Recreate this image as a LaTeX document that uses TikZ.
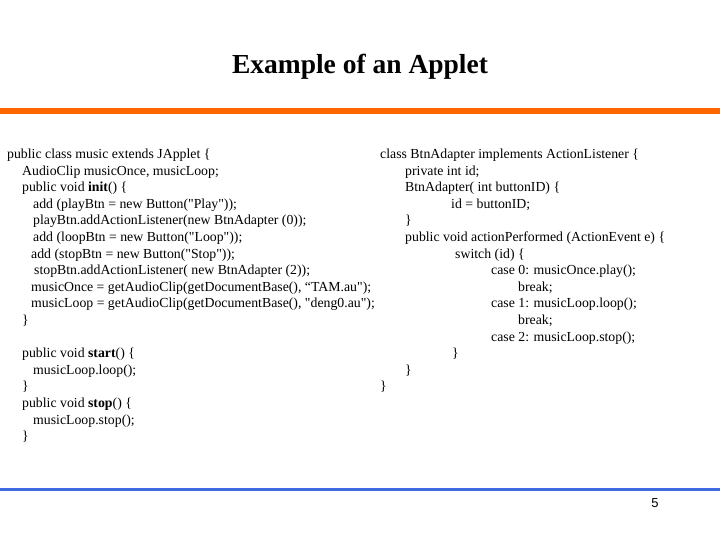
\documentclass[tikz,border=0pt]{standalone}
\usepackage{fontspec}
\setmainfont{Liberation Serif}
\newfontfamily\pagefont{Liberation Sans}
\definecolor{barorange}{RGB}{255,102,0}
\definecolor{barblue}{RGB}{65,105,225}
\newcommand{\dq}{\textquotedbl}
\begin{document}
\begin{tikzpicture}[x=1pt, y=-1pt,
  code/.style={anchor=base west, inner sep=0pt, font=\fontsize{13.8}{16}\selectfont}]
\useasboundingbox (0,0) rectangle (720,540);
\node[anchor=base, inner sep=0pt, font=\fontsize{27.5}{30}\selectfont\bfseries] (title) at (360,74) {Example of an Applet};
\draw[barorange, line width=6pt] (0,111)--(720,111);
\draw[barblue, line width=3.5pt] (0,489.5)--(720,489.5);
% applet class, row/indent/text
\foreach \r/\x/\t [count=\i] in {0/7/{public class music extends JApplet \{},
  1/22/{AudioClip musicOnce, musicLoop;},
  2/22/{public void \textbf{init}() \{},
  3/33/{add (playBtn = new Button(\dq Play\dq));},
  4/33/{playBtn.addActionListener(new BtnAdapter (0));},
  5/33/{add (loopBtn = new Button(\dq Loop\dq));},
  6/31/{add (stopBtn = new Button(\dq Stop\dq));},
  7/34/{stopBtn.addActionListener( new BtnAdapter (2));},
  8/31/{musicOnce = getAudioClip(getDocumentBase(), “TAM.au\dq);},
  9/31/{musicLoop = getAudioClip(getDocumentBase(), \dq deng0.au\dq);},
  10/22/{\}},
  12/22/{public void \textbf{start}() \{},
  13/33/{musicLoop.loop();},
  14/22/{\}},
  15/22/{public void \textbf{stop}() \{},
  16/33/{musicLoop.stop();},
  17/22/{\}}}
\node[code] (l\i) at (\x,{158.5+16.6*\r}) {\t};
% listener class
\foreach \r/\x/\t [count=\i] in {0/380/{class BtnAdapter implements ActionListener \{},
  1/405/{private int id;},
  2/405/{BtnAdapter( int buttonID) \{},
  3/451/{id = buttonID;},
  4/405/{\}},
  5/405/{public void actionPerformed (ActionEvent e) \{},
  6/455/{switch (id) \{},
  7/491/{case 0: musicOnce.play();},
  8/518/{break;},
  9/491/{case 1: musicLoop.loop();},
  10/518/{break;},
  11/491/{case 2: musicLoop.stop();},
  12/452/{\}},
  13/405/{\}},
  14/380/{\}}}
\node[code] (r\i) at (\x,{158.5+16.6*\r}) {\t};
\node[inner sep=0pt, font=\pagefont\fontsize{13}{14}\selectfont] (page) at (655,503) {5};
\end{tikzpicture}
\end{document}
